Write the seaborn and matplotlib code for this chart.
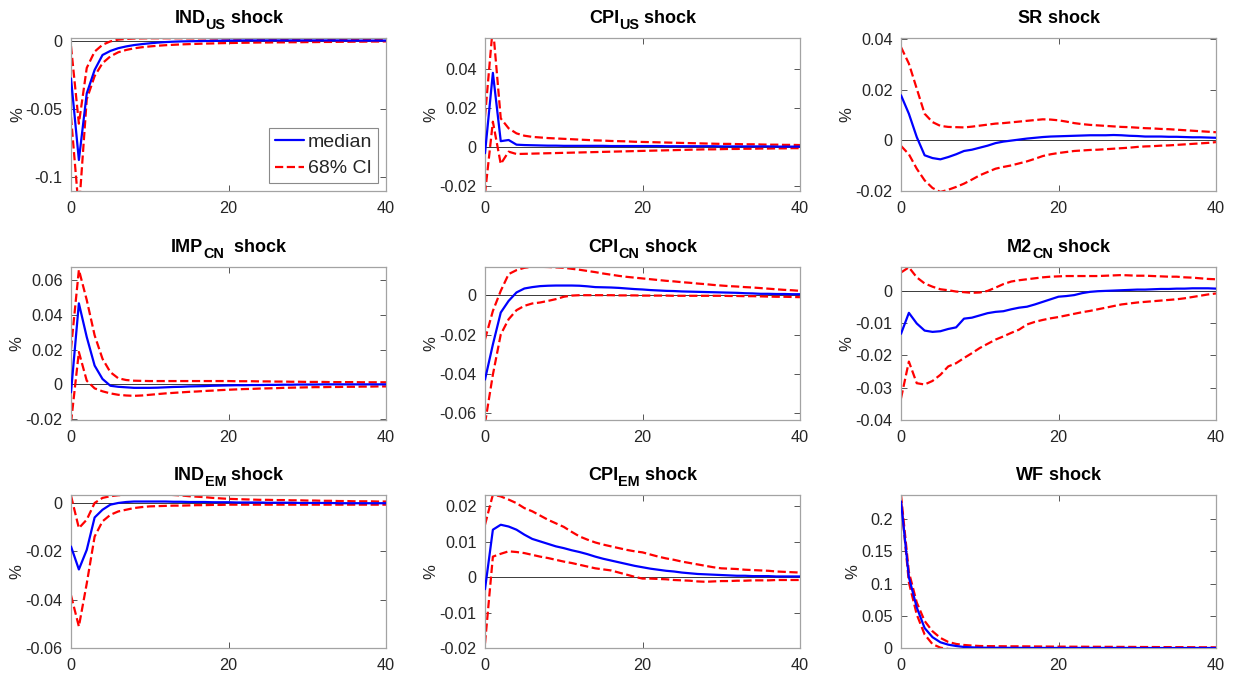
import matplotlib
matplotlib.use("Agg")
import matplotlib.pyplot as plt
from matplotlib.transforms import offset_copy
import numpy as np
import pandas as pd
import seaborn as sns

# Impulse-response horizon
horizon = list(range(41))

# ---- IND_US shock ----
ind_us_med = [-0.0277, -0.0877, -0.0387, -0.0215, -0.0105, -0.0075, -0.0055, -0.0042, -0.0032, -0.0025,
              -0.0019, -0.0014, -0.0010, -0.0007, -0.0005, -0.0004, -0.0003, -0.0002, -0.0001, 0.0000,
              0.0001, 0.0001, 0.0002, 0.0002, 0.0002, 0.0002, 0.0002, 0.0002, 0.0002, 0.0002,
              0.0002, 0.0002, 0.0002, 0.0002, 0.0002, 0.0001, 0.0001, 0.0001, 0.0001, 0.0001, 0.0001]
ind_us_up = [-0.0040, -0.0610, -0.0200, -0.0080, -0.0030, -0.0005, 0.0008, 0.0013, 0.0016, 0.0017,
             0.0018, 0.0018, 0.0018, 0.0018, 0.0018, 0.0017, 0.0017, 0.0017, 0.0016, 0.0016,
             0.0016, 0.0015, 0.0015, 0.0015, 0.0014, 0.0014, 0.0014, 0.0013, 0.0013, 0.0013,
             0.0012, 0.0012, 0.0012, 0.0011, 0.0011, 0.0011, 0.0010, 0.0010, 0.0010, 0.0009, 0.0009]
ind_us_lo = [-0.0560, -0.1250, -0.0430, -0.0260, -0.0165, -0.0115, -0.0085, -0.0068, -0.0056, -0.0048,
             -0.0042, -0.0037, -0.0033, -0.0030, -0.0027, -0.0025, -0.0023, -0.0021, -0.0020, -0.0018,
             -0.0017, -0.0016, -0.0015, -0.0014, -0.0013, -0.0013, -0.0012, -0.0012, -0.0011, -0.0011,
             -0.0010, -0.0010, -0.0009, -0.0009, -0.0008, -0.0008, -0.0007, -0.0007, -0.0006, -0.0006, -0.0005]

# ---- CPI_US shock ----
cpi_us_med = [-0.0032, 0.0381, 0.0030, 0.0036, 0.0012, 0.0010, 0.0009, 0.0008, 0.0007, 0.0007,
              0.0006, 0.0006, 0.0006, 0.0006, 0.0006, 0.0006, 0.0005, 0.0005, 0.0005, 0.0005,
              0.0005, 0.0005, 0.0005, 0.0004, 0.0004, 0.0004, 0.0004, 0.0004, 0.0004, 0.0004,
              0.0003, 0.0003, 0.0003, 0.0003, 0.0003, 0.0003, 0.0003, 0.0002, 0.0002, 0.0002, 0.0002]
cpi_us_up = [0.0156, 0.0620, 0.0147, 0.0096, 0.0070, 0.0058, 0.0052, 0.0049, 0.0046, 0.0044,
             0.0042, 0.0040, 0.0038, 0.0036, 0.0034, 0.0033, 0.0031, 0.0030, 0.0029, 0.0027,
             0.0026, 0.0025, 0.0024, 0.0023, 0.0022, 0.0021, 0.0020, 0.0019, 0.0018, 0.0017,
             0.0016, 0.0016, 0.0015, 0.0014, 0.0014, 0.0013, 0.0012, 0.0012, 0.0011, 0.0011, 0.0010]
cpi_us_lo = [-0.0240, 0.0130, -0.0087, -0.0024, -0.0036, -0.0035, -0.0034, -0.0033, -0.0032, -0.0031,
             -0.0030, -0.0029, -0.0028, -0.0027, -0.0026, -0.0025, -0.0024, -0.0023, -0.0022, -0.0021,
             -0.0020, -0.0019, -0.0018, -0.0017, -0.0016, -0.0015, -0.0014, -0.0013, -0.0012, -0.0012,
             -0.0011, -0.0010, -0.0010, -0.0009, -0.0009, -0.0008, -0.0008, -0.0007, -0.0007, -0.0006, -0.0006]

# ---- SR shock ----
sr_med = [0.0178, 0.0105, 0.0013, -0.0059, -0.0070, -0.0075, -0.0066, -0.0055, -0.0042, -0.0037,
          -0.0029, -0.0021, -0.0011, -0.0005, -0.0001, 0.0003, 0.0007, 0.0010, 0.0013, 0.0015,
          0.0016, 0.0017, 0.0018, 0.0019, 0.0020, 0.0020, 0.0020, 0.0021, 0.0020, 0.0018,
          0.0017, 0.0015, 0.0015, 0.0015, 0.0014, 0.0014, 0.0013, 0.0012, 0.0012, 0.0011, 0.0010]
sr_up = [0.0368, 0.0303, 0.0204, 0.0105, 0.0072, 0.0057, 0.0053, 0.0052, 0.0051, 0.0054,
         0.0058, 0.0062, 0.0066, 0.0068, 0.0071, 0.0074, 0.0077, 0.0080, 0.0083, 0.0082,
         0.0079, 0.0074, 0.0068, 0.0064, 0.0061, 0.0059, 0.0057, 0.0055, 0.0053, 0.0052,
         0.0050, 0.0048, 0.0047, 0.0045, 0.0044, 0.0042, 0.0040, 0.0038, 0.0036, 0.0034, 0.0032]
sr_lo = [-0.0022, -0.0055, -0.0112, -0.0158, -0.0188, -0.0204, -0.0195, -0.0184, -0.0171, -0.0155,
         -0.0138, -0.0125, -0.0112, -0.0105, -0.0099, -0.0091, -0.0083, -0.0073, -0.0062, -0.0055,
         -0.0050, -0.0046, -0.0042, -0.0040, -0.0038, -0.0037, -0.0035, -0.0033, -0.0031, -0.0029,
         -0.0026, -0.0024, -0.0023, -0.0021, -0.0020, -0.0018, -0.0016, -0.0014, -0.0012, -0.0010, -0.0007]

# ---- IMP_CN shock ----
imp_cn_med = [-0.0046, 0.0466, 0.0272, 0.0108, 0.0031, -0.0008, -0.0014, -0.0017, -0.0020, -0.0020,
              -0.0020, -0.0019, -0.0017, -0.0015, -0.0014, -0.0012, -0.0011, -0.0010, -0.0008, -0.0007,
              -0.0006, -0.0005, -0.0005, -0.0004, -0.0004, -0.0003, -0.0003, -0.0002, -0.0002, -0.0001,
              -0.0001, -0.0001, 0.0000, 0.0000, 0.0000, 0.0000, 0.0000, 0.0000, 0.0000, 0.0000, 0.0000]
imp_cn_up = [0.0205, 0.0659, 0.0485, 0.0282, 0.0147, 0.0070, 0.0035, 0.0025, 0.0021, 0.0020,
             0.0019, 0.0019, 0.0019, 0.0019, 0.0019, 0.0019, 0.0019, 0.0019, 0.0019, 0.0019,
             0.0019, 0.0018, 0.0018, 0.0018, 0.0017, 0.0017, 0.0016, 0.0016, 0.0015, 0.0015,
             0.0014, 0.0014, 0.0014, 0.0013, 0.0013, 0.0013, 0.0013, 0.0012, 0.0012, 0.0012, 0.0012]
imp_cn_lo = [-0.0220, 0.0186, 0.0021, -0.0023, -0.0040, -0.0052, -0.0060, -0.0064, -0.0066, -0.0064,
             -0.0060, -0.0056, -0.0052, -0.0049, -0.0046, -0.0043, -0.0041, -0.0038, -0.0036, -0.0033,
             -0.0031, -0.0029, -0.0027, -0.0026, -0.0024, -0.0023, -0.0022, -0.0020, -0.0019, -0.0018,
             -0.0017, -0.0016, -0.0016, -0.0015, -0.0015, -0.0014, -0.0014, -0.0013, -0.0013, -0.0012, -0.0012]

# ---- CPI_CN shock ----
cpi_cn_med = [-0.0428, -0.0250, -0.0088, -0.0029, 0.0014, 0.0034, 0.0041, 0.0046, 0.0048, 0.0049,
              0.0049, 0.0049, 0.0048, 0.0045, 0.0041, 0.0040, 0.0039, 0.0037, 0.0034, 0.0031,
              0.0029, 0.0026, 0.0024, 0.0022, 0.0021, 0.0019, 0.0018, 0.0017, 0.0016, 0.0015,
              0.0014, 0.0013, 0.0012, 0.0010, 0.0009, 0.0007, 0.0007, 0.0006, 0.0006, 0.0005, 0.0005]
cpi_cn_up = [-0.0224, -0.0080, 0.0022, 0.0107, 0.0127, 0.0139, 0.0144, 0.0144, 0.0143, 0.0141,
             0.0139, 0.0134, 0.0129, 0.0123, 0.0117, 0.0110, 0.0104, 0.0098, 0.0093, 0.0089,
             0.0085, 0.0081, 0.0077, 0.0073, 0.0070, 0.0066, 0.0063, 0.0059, 0.0056, 0.0052,
             0.0049, 0.0046, 0.0044, 0.0041, 0.0039, 0.0036, 0.0033, 0.0030, 0.0027, 0.0025, 0.0022]
cpi_cn_lo = [-0.0650, -0.0403, -0.0199, -0.0122, -0.0076, -0.0054, -0.0042, -0.0037, -0.0029, -0.0020,
             -0.0008, -0.0002, 0.0000, 0.0000, 0.0000, 0.0000, 0.0000, -0.0001, -0.0001, -0.0001,
             -0.0002, -0.0002, -0.0002, -0.0002, -0.0003, -0.0003, -0.0003, -0.0003, -0.0003, -0.0003,
             -0.0003, -0.0004, -0.0004, -0.0005, -0.0005, -0.0006, -0.0007, -0.0008, -0.0008, -0.0009, -0.0010]

# ---- M2_CN shock ----
m2_cn_med = [-0.0133, -0.0068, -0.0101, -0.0123, -0.0127, -0.0125, -0.0118, -0.0113, -0.0086, -0.0083,
             -0.0076, -0.0069, -0.0065, -0.0063, -0.0057, -0.0052, -0.0049, -0.0042, -0.0034, -0.0026,
             -0.0018, -0.0016, -0.0013, -0.0007, -0.0003, -0.0001, 0.0000, 0.0001, 0.0002, 0.0003,
             0.0004, 0.0004, 0.0005, 0.0006, 0.0006, 0.0007, 0.0007, 0.0008, 0.0008, 0.0008, 0.0007]
m2_cn_up = [0.0057, 0.0073, 0.0042, 0.0023, 0.0013, 0.0005, 0.0002, -0.0002, -0.0004, -0.0006,
            -0.0005, 0.0000, 0.0010, 0.0021, 0.0029, 0.0033, 0.0036, 0.0039, 0.0042, 0.0044,
            0.0045, 0.0046, 0.0046, 0.0046, 0.0046, 0.0046, 0.0047, 0.0048, 0.0049, 0.0048,
            0.0047, 0.0047, 0.0046, 0.0045, 0.0044, 0.0044, 0.0042, 0.0041, 0.0039, 0.0037, 0.0036]
m2_cn_lo = [-0.0333, -0.0219, -0.0286, -0.0290, -0.0279, -0.0260, -0.0234, -0.0224, -0.0208, -0.0193,
            -0.0177, -0.0164, -0.0151, -0.0141, -0.0130, -0.0120, -0.0104, -0.0096, -0.0090, -0.0085,
            -0.0081, -0.0076, -0.0071, -0.0066, -0.0062, -0.0057, -0.0052, -0.0047, -0.0042, -0.0039,
            -0.0036, -0.0034, -0.0032, -0.0030, -0.0028, -0.0026, -0.0023, -0.0019, -0.0015, -0.0011, -0.0008]

# ---- IND_EM shock ----
ind_em_med = [-0.0180, -0.0275, -0.0194, -0.0060, -0.0028, -0.0007, 0.0000, 0.0004, 0.0006, 0.0006,
              0.0006, 0.0006, 0.0006, 0.0005, 0.0005, 0.0004, 0.0004, 0.0004, 0.0003, 0.0003,
              0.0003, 0.0002, 0.0002, 0.0002, 0.0002, 0.0001, 0.0001, 0.0001, 0.0001, 0.0000,
              0.0000, 0.0000, 0.0000, 0.0000, -0.0001, -0.0001, -0.0001, -0.0001, -0.0001, -0.0001, -0.0001]
ind_em_up = [0.0030, -0.0104, -0.0069, 0.0000, 0.0021, 0.0028, 0.0032, 0.0034, 0.0035, 0.0036,
             0.0036, 0.0036, 0.0035, 0.0033, 0.0031, 0.0028, 0.0026, 0.0024, 0.0021, 0.0019,
             0.0017, 0.0016, 0.0015, 0.0014, 0.0013, 0.0013, 0.0012, 0.0012, 0.0011, 0.0011,
             0.0010, 0.0010, 0.0009, 0.0009, 0.0008, 0.0008, 0.0007, 0.0007, 0.0007, 0.0006, 0.0006]
ind_em_lo = [-0.0382, -0.0511, -0.0333, -0.0139, -0.0076, -0.0049, -0.0035, -0.0028, -0.0021, -0.0017,
             -0.0014, -0.0013, -0.0012, -0.0011, -0.0011, -0.0010, -0.0009, -0.0009, -0.0008, -0.0008,
             -0.0007, -0.0007, -0.0007, -0.0007, -0.0007, -0.0007, -0.0007, -0.0007, -0.0007, -0.0007,
             -0.0007, -0.0007, -0.0007, -0.0007, -0.0007, -0.0007, -0.0007, -0.0007, -0.0007, -0.0007, -0.0007]

# ---- CPI_EM shock ----
cpi_em_med = [-0.0034, 0.0134, 0.0148, 0.0143, 0.0134, 0.0120, 0.0108, 0.0101, 0.0094, 0.0087,
              0.0082, 0.0076, 0.0071, 0.0065, 0.0058, 0.0052, 0.0047, 0.0042, 0.0037, 0.0032,
              0.0028, 0.0024, 0.0021, 0.0018, 0.0016, 0.0013, 0.0011, 0.0009, 0.0008, 0.0007,
              0.0006, 0.0005, 0.0004, 0.0004, 0.0003, 0.0003, 0.0003, 0.0002, 0.0002, 0.0002, 0.0002]
cpi_em_up = [0.0148, 0.0233, 0.0228, 0.0219, 0.0209, 0.0195, 0.0186, 0.0174, 0.0162, 0.0152,
             0.0142, 0.0128, 0.0115, 0.0106, 0.0098, 0.0092, 0.0087, 0.0082, 0.0077, 0.0073,
             0.0070, 0.0064, 0.0058, 0.0053, 0.0049, 0.0044, 0.0040, 0.0036, 0.0032, 0.0028,
             0.0025, 0.0024, 0.0023, 0.0021, 0.0020, 0.0019, 0.0018, 0.0016, 0.0015, 0.0014, 0.0013]
cpi_em_lo = [-0.0187, 0.0058, 0.0066, 0.0073, 0.0071, 0.0068, 0.0063, 0.0058, 0.0054, 0.0049,
             0.0044, 0.0040, 0.0035, 0.0030, 0.0025, 0.0022, 0.0019, 0.0013, 0.0007, 0.0001,
             -0.0004, -0.0004, -0.0005, -0.0006, -0.0008, -0.0009, -0.0010, -0.0012, -0.0013, -0.0012,
             -0.0011, -0.0011, -0.0010, -0.0010, -0.0009, -0.0009, -0.0009, -0.0008, -0.0008, -0.0008, -0.0008]

# ---- WF shock ----
wf_med = [0.2277, 0.1100, 0.0630, 0.0310, 0.0168, 0.0089, 0.0052, 0.0031, 0.0016, 0.0010,
          0.0005, 0.0004, 0.0003, 0.0003, 0.0002, 0.0002, 0.0002, 0.0001, 0.0001, 0.0001,
          0.0001, 0.0001, 0.0001, 0.0001, 0.0001, 0.0001, 0.0001, 0.0001, 0.0001, 0.0001,
          0.0000, 0.0000, 0.0000, 0.0000, 0.0000, 0.0000, 0.0000, 0.0000, 0.0000, 0.0000, 0.0000]
wf_up = [0.2380, 0.1180, 0.0707, 0.0420, 0.0260, 0.0157, 0.0094, 0.0063, 0.0047, 0.0038,
         0.0031, 0.0029, 0.0028, 0.0027, 0.0026, 0.0026, 0.0025, 0.0024, 0.0023, 0.0022,
         0.0021, 0.0021, 0.0020, 0.0020, 0.0019, 0.0019, 0.0018, 0.0018, 0.0017, 0.0017,
         0.0016, 0.0015, 0.0015, 0.0014, 0.0014, 0.0013, 0.0013, 0.0012, 0.0011, 0.0011, 0.0010]
wf_lo = [0.2304, 0.1020, 0.0520, 0.0210, 0.0060, 0.0005, -0.0015, -0.0020, -0.0016, -0.0013,
         -0.0010, -0.0010, -0.0010, -0.0010, -0.0010, -0.0010, -0.0009, -0.0008, -0.0007, -0.0006,
         -0.0005, -0.0005, -0.0005, -0.0004, -0.0004, -0.0004, -0.0004, -0.0003, -0.0003, -0.0003,
         -0.0003, -0.0003, -0.0002, -0.0002, -0.0002, -0.0002, -0.0001, -0.0001, -0.0001, -0.0001, 0.0000]

# Panel titles: variable name, subscript, remainder
title_main = ["IND", "CPI", "SR", "IMP", "CPI", "M2", "IND", "CPI", "WF"]
title_sub = ["US", "US", "", "CN", "CN", "CN", "EM", "EM", ""]
title_rest = [" shock", " shock", " shock", "  shock", " shock", " shock", " shock", " shock", " shock"]

series = [(ind_us_med, ind_us_up, ind_us_lo), (cpi_us_med, cpi_us_up, cpi_us_lo), (sr_med, sr_up, sr_lo),
          (imp_cn_med, imp_cn_up, imp_cn_lo), (cpi_cn_med, cpi_cn_up, cpi_cn_lo), (m2_cn_med, m2_cn_up, m2_cn_lo),
          (ind_em_med, ind_em_up, ind_em_lo), (cpi_em_med, cpi_em_up, cpi_em_lo), (wf_med, wf_up, wf_lo)]

y_limits = [(-0.1105, 0.002), (-0.0226, 0.056), (-0.02, 0.0404),
            (-0.0205, 0.0675), (-0.0633, 0.0143), (-0.04, 0.0074),
            (-0.06, 0.0033), (-0.0195, 0.0232), (0.0, 0.2377)]

y_ticks = [[-0.1, -0.05, 0], [-0.02, 0, 0.02, 0.04], [-0.02, 0, 0.02, 0.04],
           [-0.02, 0, 0.02, 0.04, 0.06], [-0.06, -0.04, -0.02, 0], [-0.04, -0.03, -0.02, -0.01, 0],
           [-0.06, -0.04, -0.02, 0], [-0.02, -0.01, 0, 0.01, 0.02], [0, 0.05, 0.1, 0.15, 0.2]]

x_ticks = [0, 20, 40]

sns.set_theme(style="white")
plt.rcParams["font.family"] = ["Liberation Sans", "DejaVu Sans"]
plt.rcParams["axes.unicode_minus"] = False

text_col = "#262626"
box_col = "#a3a3a3"
tick_size = 11.7
title_size = 13
sub_size = 10.4

fig = plt.figure(figsize=(12.4, 6.79), dpi=100)
renderer = fig.canvas.get_renderer()

W, H = 1240.0, 679.0
lefts = [71, 485, 901]
bottoms = [191, 420, 648]
ax_w, ax_h = 315, 153


def fmt(v):
    return "0" if v == 0 else f"{v:g}"


def text_width_pt(s, size):
    if not s:
        return 0.0
    t = fig.text(0, 0, s, fontsize=size, fontweight="bold")
    w = t.get_window_extent(renderer).width * 72.0 / fig.dpi
    t.remove()
    return w


def subscript_title(ax, main, sub, rest, rise=10.6, drop=4.2):
    parts = [(main, title_size, 0.0), (sub, sub_size, -drop), (rest, title_size, 0.0)]
    widths = [text_width_pt(s, sz) for s, sz, _ in parts]
    x0 = -sum(widths) / 2.0
    for (s, sz, dy), w in zip(parts, widths):
        if s:
            tr = offset_copy(ax.transAxes, fig=fig, x=x0, y=rise + dy, units="points")
            ax.text(0.5, 1.0, s, transform=tr, fontsize=sz, fontweight="bold",
                    color="black", ha="left", va="baseline", clip_on=False)
        x0 += w


for i, (med, up, lo) in enumerate(series):
    r, c = divmod(i, 3)
    ax = fig.add_axes([lefts[c] / W, 1 - bottoms[r] / H, ax_w / W, ax_h / H])
    df = pd.DataFrame({"h": horizon, "median": med, "upper": up, "lower": lo})

    ax.axhline(0, color="#3a3a3a", lw=0.7, zorder=1)
    sns.lineplot(data=df, x="h", y="median", ax=ax, color="#0000ff", lw=1.6,
                 label="median" if i == 0 else None, zorder=3)
    sns.lineplot(data=df, x="h", y="upper", ax=ax, color="#ff0000", lw=1.6, linestyle="--",
                 label="68% CI" if i == 0 else None, zorder=2)
    sns.lineplot(data=df, x="h", y="lower", ax=ax, color="#ff0000", lw=1.6, linestyle="--", zorder=2)

    ax.set_xlim(0, 40)
    ax.set_ylim(*y_limits[i])
    ax.set_xticks(x_ticks)
    ax.set_xticklabels([str(t) for t in x_ticks])
    ax.set_yticks(y_ticks[i])
    ax.set_yticklabels([fmt(t) for t in y_ticks[i]])
    ax.set_xlabel("")
    ax.set_ylabel("%", fontsize=12, color=text_col, labelpad=0.5)
    subscript_title(ax, title_main[i], title_sub[i], title_rest[i])

    ax.tick_params(axis="both", direction="in", length=4, width=0.7, color="#555555",
                   labelsize=tick_size, labelcolor=text_col, top=True, right=True,
                   bottom=True, left=True)
    ax.tick_params(axis="y", pad=6)
    ax.tick_params(axis="x", pad=7.5)
    for sp in ax.spines.values():
        sp.set_visible(True)
        sp.set_color(box_col)
        sp.set_linewidth(0.9)

    if i == 0:
        leg = ax.legend(loc="lower right", fontsize=14, frameon=True, fancybox=False,
                        edgecolor="#8a8a8a", framealpha=1, handlelength=1.5,
                        handletextpad=0.2, borderpad=0.3, labelspacing=0.45,
                        borderaxespad=0.4)
        leg.get_frame().set_linewidth(0.8)
    else:
        lg = ax.get_legend()
        if lg is not None:
            lg.remove()

fig.savefig("out.png", dpi=100, facecolor="white")
